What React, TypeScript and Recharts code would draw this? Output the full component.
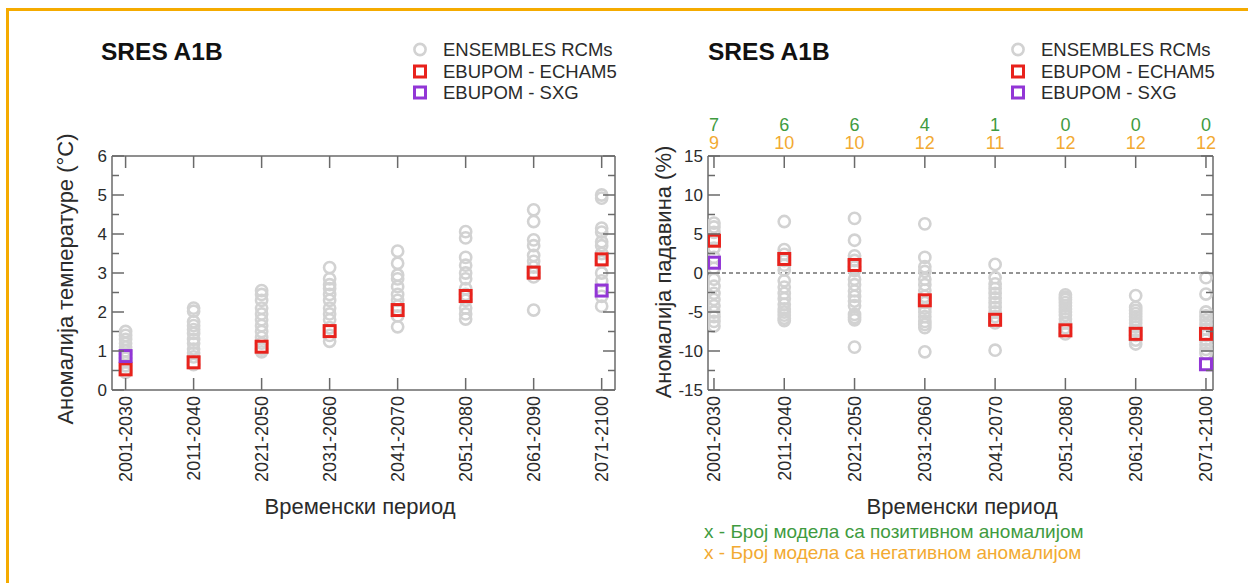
import React from 'react';
import { ScatterChart, Scatter, XAxis, YAxis, ReferenceLine, Legend } from 'recharts';

// ---- data ----
const periods = ['2001-2030', '2011-2040', '2021-2050', '2031-2060', '2041-2070', '2051-2080', '2061-2090', '2071-2100'];
const periodIndex = [0, 1, 2, 3, 4, 5, 6, 7];

// Temperature anomaly (°C): ENSEMBLES RCMs, one list per period
const tempRcms: number[][] = [
  [1.5, 1.4, 1.3, 1.2, 1.1, 1.0, 0.92, 0.82, 0.72, 0.62, 0.52, 0.45],
  [2.1, 2.02, 1.75, 1.65, 1.55, 1.45, 1.3, 1.2, 1.05, 0.95, 0.85, 0.65],
  [2.55, 2.45, 2.3, 2.1, 1.95, 1.8, 1.65, 1.5, 1.35, 1.2, 1.05, 0.98],
  [3.14, 2.85, 2.7, 2.6, 2.45, 2.3, 2.1, 1.95, 1.8, 1.6, 1.4, 1.25],
  [3.56, 3.25, 2.95, 2.85, 2.65, 2.45, 2.3, 2.15, 2.05, 1.9, 1.62],
  [4.06, 3.9, 3.4, 3.2, 3.0, 2.85, 2.6, 2.45, 2.3, 2.1, 1.95, 1.82],
  [4.62, 4.32, 3.85, 3.7, 3.45, 3.3, 3.15, 3.0, 2.9, 2.05],
  [5.0, 4.92, 4.15, 4.05, 3.8, 3.7, 3.5, 3.3, 3.0, 2.8, 2.4, 2.15],
];
const tempEcham5: (number | null)[] = [0.53, 0.71, 1.11, 1.51, 2.05, 2.41, 3.01, 3.35];
const tempSxg: (number | null)[] = [0.87, null, null, null, null, null, null, 2.55];
const tempYTicks = [0, 0.5, 1, 1.5, 2, 2.5, 3, 3.5, 4, 4.5, 5, 5.5, 6];

// Precipitation anomaly (%): ENSEMBLES RCMs, one list per period
const precRcms: number[][] = [
  [6.4, 5.9, 5.2, 4.3, 3.2, 2.0, 0.6, -0.8, -1.7, -2.6, -3.4, -4.2, -5.0, -5.6, -6.2, -6.8],
  [6.6, 3.0, 2.4, 1.6, 1.0, 0.4, -1.0, -1.8, -2.6, -3.3, -4.0, -4.6, -5.0, -5.4, -5.8, -6.1],
  [7.0, 4.2, 2.2, 1.6, 0.8, 0.3, -0.8, -1.5, -2.3, -3.0, -3.6, -4.2, -5.3, -5.7, -6.0, -9.5],
  [6.3, 2.0, 0.8, 0.2, -0.8, -1.5, -2.2, -3.0, -3.8, -4.5, -5.0, -5.6, -6.2, -6.6, -7.0, -10.1],
  [1.1, -0.6, -1.4, -2.0, -2.6, -3.2, -3.8, -4.4, -5.0, -5.6, -6.4, -9.9],
  [-2.8, -3.1, -3.4, -3.8, -4.2, -4.6, -5.0, -5.4, -5.9, -6.4, -7.0, -7.8],
  [-2.9, -4.4, -4.8, -5.2, -5.6, -6.0, -6.4, -6.9, -7.4, -8.0, -8.6, -9.1],
  [-0.6, -2.7, -5.0, -5.5, -6.0, -6.6, -7.2, -8.0, -8.6, -9.2, -9.8, -10.3],
];
const precEcham5: (number | null)[] = [4.14, 1.8, 1.03, -3.5, -6.0, -7.35, -7.8, -7.8];
const precSxg: (number | null)[] = [1.32, null, null, null, null, null, null, -11.7];
const precYTicks = [-15, -12.5, -10, -7.5, -5, -2.5, 0, 2.5, 5, 7.5, 10, 12.5, 15];

// number of models with positive / negative anomaly per period
const positiveCounts = [7, 6, 6, 4, 1, 0, 0, 0];
const negativeCounts = [9, 10, 10, 12, 11, 12, 12, 12];

// ---- styling ----
const FONT = '"Liberation Sans", Arial, Helvetica, sans-serif';
const TEXT = '#2b2b2b';
const AXIS = '#6a6a6a';
const GRAY = '#d2d2d2';
const RED = '#e8221c';
const PURPLE = '#9236d6';
const GREEN = '#3f9b3f';
const ORANGE = '#f2aa32';
const FRAME = '#f5ab00';

const NAME_RCM = 'ENSEMBLES RCMs';
const NAME_ECHAM = 'EBUPOM - ECHAM5';
const NAME_SXG = 'EBUPOM - SXG';
const legendOrder = [NAME_RCM, NAME_ECHAM, NAME_SXG];

const toPoints = (cols: number[][]) => cols.flatMap((vals, i) => vals.map((v) => ({ x: i, y: v })));
const toSeries = (vals: (number | null)[]) =>
  vals.flatMap((v, i) => (v == null ? [] : [{ x: i, y: v }]));

// ---- marker shapes ----
const Ring = (p: any) => (
  <circle cx={p.cx} cy={p.cy} r={5.6} fill="none" stroke={GRAY} strokeWidth={2.6} />
);
const squareShape = (color: string) => (p: any) => (
  <rect x={p.cx - 5.5} y={p.cy - 5.5} width={11} height={11} fill="none" stroke={color} strokeWidth={3} />
);

// ---- axis ticks (drawn inward, labels outside) ----
const MAJOR = 12;
const MINOR = 7;

const bottomTick = (p: any) => {
  const { x, y, payload } = p;
  const ty = y + 6;
  return (
    <g>
      <line x1={x} x2={x} y1={y} y2={y - MAJOR} stroke={AXIS} strokeWidth={1.5} />
      <text
        x={x}
        y={ty}
        transform={`rotate(-90 ${x} ${ty})`}
        textAnchor="end"
        dy="0.36em"
        fontSize={18}
        fill={TEXT}
        fontFamily={FONT}
      >
        {periods[payload.value]}
      </text>
    </g>
  );
};

const topTick = (p: any) => (
  <line x1={p.x} x2={p.x} y1={p.y} y2={p.y + MAJOR} stroke={AXIS} strokeWidth={1.5} />
);

const topCountTick = (p: any) => {
  const { x, y, payload } = p;
  const i = payload.value;
  return (
    <g>
      <line x1={x} x2={x} y1={y} y2={y + MAJOR} stroke={AXIS} strokeWidth={1.5} />
      <text x={x} y={y - 31} dy="0.36em" textAnchor="middle" fontSize={18} fill={GREEN} fontFamily={FONT}>
        {positiveCounts[i]}
      </text>
      <text x={x} y={y - 13} dy="0.36em" textAnchor="middle" fontSize={18} fill={ORANGE} fontFamily={FONT}>
        {negativeCounts[i]}
      </text>
    </g>
  );
};

const leftTick = (step: number) => (p: any) => {
  const { x, y, payload } = p;
  const v = payload.value;
  const major = Math.abs(v / step - Math.round(v / step)) < 1e-6;
  return (
    <g>
      <line x1={x} x2={x + (major ? MAJOR : MINOR)} y1={y} y2={y} stroke={AXIS} strokeWidth={1.5} />
      {major && (
        <text x={x - 5} y={y} dy="0.36em" textAnchor="end" fontSize={17} fill={TEXT} fontFamily={FONT}>
          {v}
        </text>
      )}
    </g>
  );
};

const rightTick = (step: number) => (p: any) => {
  const { x, y, payload } = p;
  const v = payload.value;
  const major = Math.abs(v / step - Math.round(v / step)) < 1e-6;
  return <line x1={x} x2={x - (major ? MAJOR : MINOR)} y1={y} y2={y} stroke={AXIS} strokeWidth={1.5} />;
};

// ---- legend ----
const LegendBox = (props: any) => {
  const items = [...(props.payload || [])].sort(
    (a: any, b: any) => legendOrder.indexOf(a.value) - legendOrder.indexOf(b.value)
  );
  return (
    <div style={{ fontFamily: FONT, fontSize: 18.5, color: TEXT, lineHeight: '21.5px' }}>
      {items.map((entry: any) => (
        <div key={entry.value} style={{ display: 'flex', alignItems: 'center', whiteSpace: 'nowrap' }}>
          <svg width={33} height={21} style={{ flex: 'none' }}>
            {entry.value === NAME_RCM ? (
              <circle cx={10} cy={10.5} r={5.6} fill="none" stroke={GRAY} strokeWidth={2.6} />
            ) : (
              <rect x={4.5} y={5} width={11} height={11} fill="none" stroke={entry.color} strokeWidth={3} />
            )}
          </svg>
          <span>{entry.value}</span>
        </div>
      ))}
    </div>
  );
};

const axisLineStyle = { stroke: AXIS, strokeWidth: 1.5 };

type PanelProps = {
  width: number;
  margin: { top: number; right: number; bottom: number; left: number };
  xDomain: [number, number];
  yDomain: [number, number];
  yTicks: number[];
  yStep: number;
  rcms: number[][];
  echam: (number | null)[];
  sxg: (number | null)[];
  counts: boolean;
  zeroLine: boolean;
  legendLeft: number;
};

function Panel(props: PanelProps) {
  const { width, margin, xDomain, yDomain, yTicks, yStep, rcms, echam, sxg, counts, zeroLine, legendLeft } = props;
  return (
    <ScatterChart width={width} height={583} margin={margin}>
      <XAxis
        xAxisId="bottom"
        type="number"
        dataKey="x"
        domain={xDomain}
        ticks={periodIndex}
        interval={0}
        allowDataOverflow
        height={1}
        tickSize={0}
        tickMargin={0}
        tickLine={false}
        axisLine={axisLineStyle}
        tick={bottomTick}
      />
      <XAxis
        xAxisId="top"
        orientation="top"
        type="number"
        dataKey="x"
        domain={xDomain}
        ticks={periodIndex}
        interval={0}
        allowDataOverflow
        height={1}
        tickSize={0}
        tickMargin={0}
        tickLine={false}
        axisLine={axisLineStyle}
        tick={counts ? topCountTick : topTick}
      />
      <YAxis
        yAxisId="left"
        type="number"
        dataKey="y"
        domain={yDomain}
        ticks={yTicks}
        interval={0}
        allowDataOverflow
        width={1}
        tickSize={0}
        tickMargin={0}
        tickLine={false}
        axisLine={axisLineStyle}
        tick={leftTick(yStep)}
      />
      <YAxis
        yAxisId="right"
        orientation="right"
        type="number"
        dataKey="y"
        domain={yDomain}
        ticks={yTicks}
        interval={0}
        allowDataOverflow
        width={1}
        tickSize={0}
        tickMargin={0}
        tickLine={false}
        axisLine={axisLineStyle}
        tick={rightTick(yStep)}
      />
      {zeroLine && (
        <ReferenceLine
          xAxisId="bottom"
          yAxisId="left"
          y={0}
          stroke="#707070"
          strokeWidth={1.5}
          strokeDasharray="4 3"
        />
      )}
      <Scatter
        name={NAME_RCM}
        xAxisId="bottom"
        yAxisId="left"
        data={toPoints(rcms)}
        fill={GRAY}
        shape={Ring}
        isAnimationActive={false}
      />
      <Scatter
        name={NAME_ECHAM}
        xAxisId="bottom"
        yAxisId="left"
        data={toSeries(echam)}
        fill={RED}
        shape={squareShape(RED)}
        isAnimationActive={false}
      />
      <Scatter
        name={NAME_SXG}
        xAxisId="bottom"
        yAxisId="left"
        data={toSeries(sxg)}
        fill={PURPLE}
        shape={squareShape(PURPLE)}
        isAnimationActive={false}
      />
      <Legend
        layout="vertical"
        align="center"
        verticalAlign="middle"
        content={LegendBox}
        wrapperStyle={{ left: legendLeft, top: 39, width: 240, height: 66 }}
      />
    </ScatterChart>
  );
}

const abs = (left: number, top: number): React.CSSProperties => ({ position: 'absolute', left, top });

const titleStyle: React.CSSProperties = {
  fontFamily: FONT,
  fontWeight: 'bold',
  fontSize: 24.5,
  color: '#111',
  whiteSpace: 'nowrap',
  lineHeight: '28px',
};

const axisTitle: React.CSSProperties = {
  fontFamily: FONT,
  fontSize: 22,
  color: TEXT,
  whiteSpace: 'nowrap',
  lineHeight: '26px',
};

export default function App() {
  return (
    <div
      style={{
        position: 'fixed',
        left: 0,
        top: 0,
        width: 1248,
        height: 583,
        background: '#fff',
        overflow: 'hidden',
      }}
    >
      {/* frame */}
      <div
        style={{
          position: 'absolute',
          left: 6,
          top: 8,
          width: 1260,
          height: 600,
          borderTop: `3px solid ${FRAME}`,
          borderLeft: `3px solid ${FRAME}`,
        }}
      />

      <div style={abs(0, 0)}>
        <Panel
          width={640}
          margin={{ top: 155, right: 24, bottom: 192, left: 111 }}
          xDomain={[-0.2, 7.196]}
          yDomain={[0, 6]}
          yTicks={tempYTicks}
          yStep={1}
          rcms={tempRcms}
          echam={tempEcham5}
          sxg={tempSxg}
          counts={false}
          zeroLine={false}
          legendLeft={410}
        />
      </div>
      <div style={abs(640, 0)}>
        <Panel
          width={608}
          margin={{ top: 155, right: 34, bottom: 192, left: 67 }}
          xDomain={[-0.085, 7.1]}
          yDomain={[-15, 15]}
          yTicks={precYTicks}
          yStep={5}
          rcms={precRcms}
          echam={precEcham5}
          sxg={precSxg}
          counts={true}
          zeroLine={true}
          legendLeft={368}
        />
      </div>

      {/* panel titles */}
      <div style={{ ...abs(101, 38), ...titleStyle }}>SRES A1B</div>
      <div style={{ ...abs(708, 38), ...titleStyle }}>SRES A1B</div>

      {/* axis titles */}
      <div style={{ ...abs(66, 279), ...axisTitle, transform: 'translate(-50%, -50%) rotate(-90deg)' }}>
        Аномалија температуре (°C)
      </div>
      <div style={{ ...abs(664, 272), ...axisTitle, transform: 'translate(-50%, -50%) rotate(-90deg)' }}>
        Аномалија падавина (%)
      </div>
      <div style={{ ...abs(360, 507), ...axisTitle, transform: 'translate(-50%, -50%)' }}>Временски период</div>
      <div style={{ ...abs(962, 507), ...axisTitle, transform: 'translate(-50%, -50%)' }}>Временски период</div>

      {/* count legend */}
      <div style={{ ...abs(704, 522), fontFamily: FONT, fontSize: 19, lineHeight: '20.5px', whiteSpace: 'nowrap' }}>
        <div style={{ color: GREEN }}>x - Број модела са позитивном аномалијом</div>
        <div style={{ color: ORANGE }}>x - Број модела са негативном аномалијом</div>
      </div>
    </div>
  );
}
